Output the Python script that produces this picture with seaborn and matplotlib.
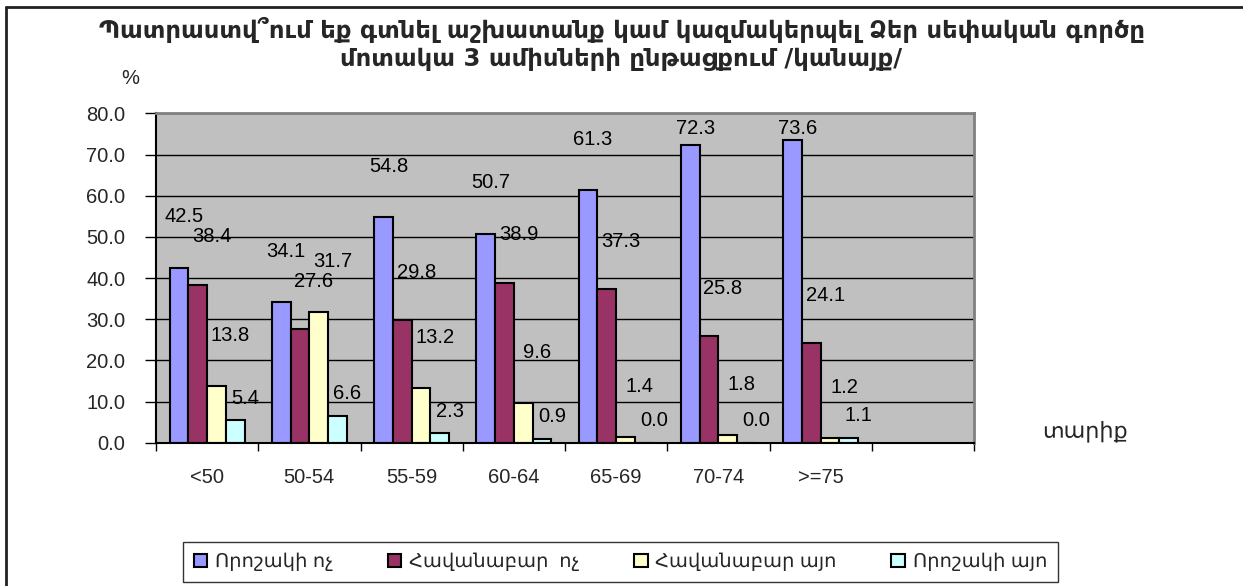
import pandas as pd
import numpy as np
import seaborn as sns
import matplotlib.pyplot as plt
from matplotlib.lines import Line2D

# data
age_groups = ['<50', '50-54', '55-59', '60-64', '65-69', '70-74', '>=75']
series_names = ['Որոշակի ոչ', 'Հավանաբար  ոչ', 'Հավանաբար այո', 'Որոշակի այո']
definitely_no = [42.5, 34.1, 54.8, 50.7, 61.3, 72.3, 73.6]
probably_no = [38.4, 27.6, 29.8, 38.9, 37.3, 25.8, 24.1]
probably_yes = [13.8, 31.7, 13.2, 9.6, 1.4, 1.8, 1.2]
definitely_yes = [5.4, 6.6, 2.3, 0.9, 0.0, 0.0, 1.1]
colors = ['#9999FF', '#993366', '#FFFFCC', '#CCFFFF']

title = ('Պատրաստվ՞ում եք գտնել աշխատանք կամ կազմակերպել Ձեր սեփական գործը\n'
         'մոտակա 3 ամիսների ընթացքում /կանայք/')

df = pd.DataFrame({
    'age': age_groups * 4,
    'series': np.repeat(series_names, len(age_groups)),
    'value': definitely_no + probably_no + probably_yes + definitely_yes,
})

sns.set_style('white')
plt.rcParams['font.family'] = ['Liberation Sans', 'DejaVu Sans']

fig = plt.figure(figsize=(12.43, 5.86), dpi=100)
ax = fig.add_axes([0.1255, 0.2445, 0.6581, 0.5621])

# an empty 8th slot on the category axis, as in the original
order = age_groups + [' ']
sns.barplot(data=df, x='age', y='value', hue='series', order=order,
            hue_order=series_names, palette=colors, width=0.733,
            edgecolor='black', linewidth=1.5, saturation=1, ax=ax, legend=True)

ax.set_facecolor('#C0C0C0')
ax.set_ylim(0, 80)
ax.set_xlim(-0.5, 7.5)
ax.set_yticks(np.arange(0, 81, 10))
ax.set_yticklabels([f'{v:.1f}' for v in np.arange(0, 81, 10)], fontsize=14.5)
ax.yaxis.grid(True, color='black', linewidth=1)
ax.set_axisbelow(True)
ax.tick_params(axis='y', length=8, width=1, pad=14, left=True, color='black')

ax.set_xticks(range(len(age_groups)))
ax.set_xticklabels(age_groups, fontsize=14.5)
ax.set_xticks(np.arange(-0.5, 8, 1), minor=True)
ax.tick_params(axis='x', which='major', length=0, pad=18)
ax.tick_params(axis='x', which='minor', length=6, width=1, bottom=True, color='black')
ax.set_xlabel('')
ax.set_ylabel('')

for side in ['left', 'bottom']:
    ax.spines[side].set_color('black')
    ax.spines[side].set_linewidth(1.5)
for side in ['top', 'right']:
    ax.spines[side].set_color('#808080')
    ax.spines[side].set_linewidth(2)

# value labels, offset from the bar tops like the original
label_shift = [(5, 12.4), (14, 11.6), (14, 12.3), (10, 5.4)]
for cont, (dx, dy) in zip(ax.containers, label_shift):
    for bar in cont:
        h = bar.get_height()
        if np.isnan(h):
            continue
        xc = bar.get_x() + bar.get_width() / 2
        ax.annotate(f'{h:.1f}', (xc, min(h + dy, 76.3)), xytext=(dx * 0.72, 0),
                    textcoords='offset points', ha='center', va='center',
                    fontsize=14.5, color='black')

handles, labels = ax.get_legend_handles_labels()
ax.legend(handles, labels, ncol=4, loc='center', bbox_to_anchor=(0.4991, 0.041),
          bbox_transform=fig.transFigure, frameon=True, fancybox=False,
          edgecolor='black', fontsize=14, handlelength=0.7, handleheight=0.7,
          handletextpad=0.4, columnspacing=2.8, borderpad=0.55)
ax.get_legend().get_frame().set_linewidth(1)

fig.text(0.5, 0.925, title, ha='center', va='center', fontsize=17.5,
         fontweight='bold', linespacing=1.2, family=['DejaVu Sans'])
fig.text(0.105, 0.866, '%', ha='center', va='center', fontsize=14.5)
fig.text(0.873, 0.265, 'տարիք', ha='center', va='center', fontsize=16,
         family=['DejaVu Sans'])

# outer frame (only left and top edges are visible in the original)
fig.add_artist(Line2D([0.0047, 0.0047], [0, 0.9886], color='#222222', lw=2,
                      transform=fig.transFigure))
fig.add_artist(Line2D([0.0047, 1], [0.9886, 0.9886], color='#222222', lw=2,
                      transform=fig.transFigure))

fig.savefig('out.png', dpi=100)
